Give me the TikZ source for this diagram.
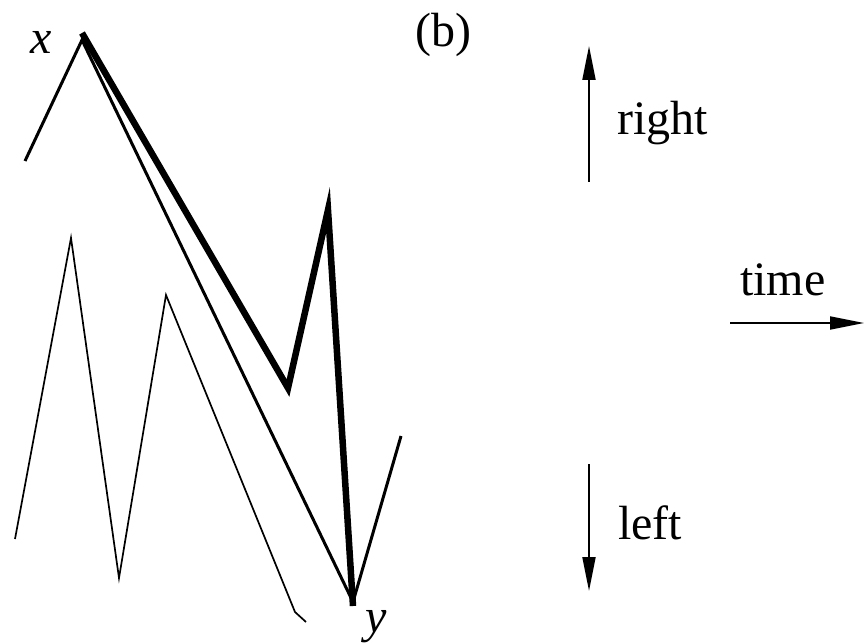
\documentclass[tikz,border=0pt]{standalone}
\usepackage{fontspec}
\setmainfont{Liberation Serif}
\usetikzlibrary{arrows.meta}
\begin{document}
\begin{tikzpicture}[x=1pt,y=-1pt,
  thickpath/.style={line width=6.5pt,line join=miter},
  midpath/.style={line width=3pt,line join=miter},
  thinpath/.style={line width=1.7pt,line join=miter},
  dirarrow/.style={line width=2pt,-{Triangle[length=34pt,width=13pt]}},
  lbl/.style={inner sep=0pt,font=\fontsize{48}{58}\selectfont}]
\useasboundingbox (0,0) rectangle (864,644);
% points
\coordinate (m0) at (25,161);
\coordinate (xp) at (82,40);
\coordinate (yp) at (353,602);
\coordinate (m3) at (401,436);
\coordinate (t0) at (82,33);
\coordinate (t1) at (288,388);
\coordinate (t2) at (328,210);
\coordinate (t3) at (353,606);
\coordinate (s0) at (15,539);
\coordinate (s1) at (71,238);
\coordinate (s2) at (119,578);
\coordinate (s3) at (166,295);
\coordinate (s4) at (295,612);
\coordinate (s5) at (306,622);
% paths
\draw[midpath] (m0) -- (xp) -- (yp) -- (m3);
\draw[thickpath] (t0) -- (t1) -- (t2) -- (t3);
\draw[thinpath] (s0) -- (s1) -- (s2) -- (s3) -- (s4) -- (s5);
% labels
\node[lbl,font=\fontsize{48}{58}\selectfont\itshape] (xl) at (41,42) {x};
\node[lbl,font=\fontsize{48}{58}\selectfont\itshape] (yl) at (376,627) {y};
\node[lbl] (bl) at (443,35) {(b)};
\node[lbl,anchor=base west] (rl) at (617,135) {right};
\node[lbl,anchor=base west] (tl) at (740,295) {time};
\node[lbl,anchor=base west] (ll) at (618,539) {left};
% arrows
\coordinate (ua0) at (589,182);
\coordinate (ua1) at (589,46);
\coordinate (da0) at (589,464);
\coordinate (da1) at (589,591);
\coordinate (ta0) at (730,323);
\coordinate (ta1) at (864,323);
\draw[dirarrow] (ua0) -- (ua1);
\draw[dirarrow] (da0) -- (da1);
\draw[dirarrow] (ta0) -- (ta1);
\end{tikzpicture}
\end{document}
